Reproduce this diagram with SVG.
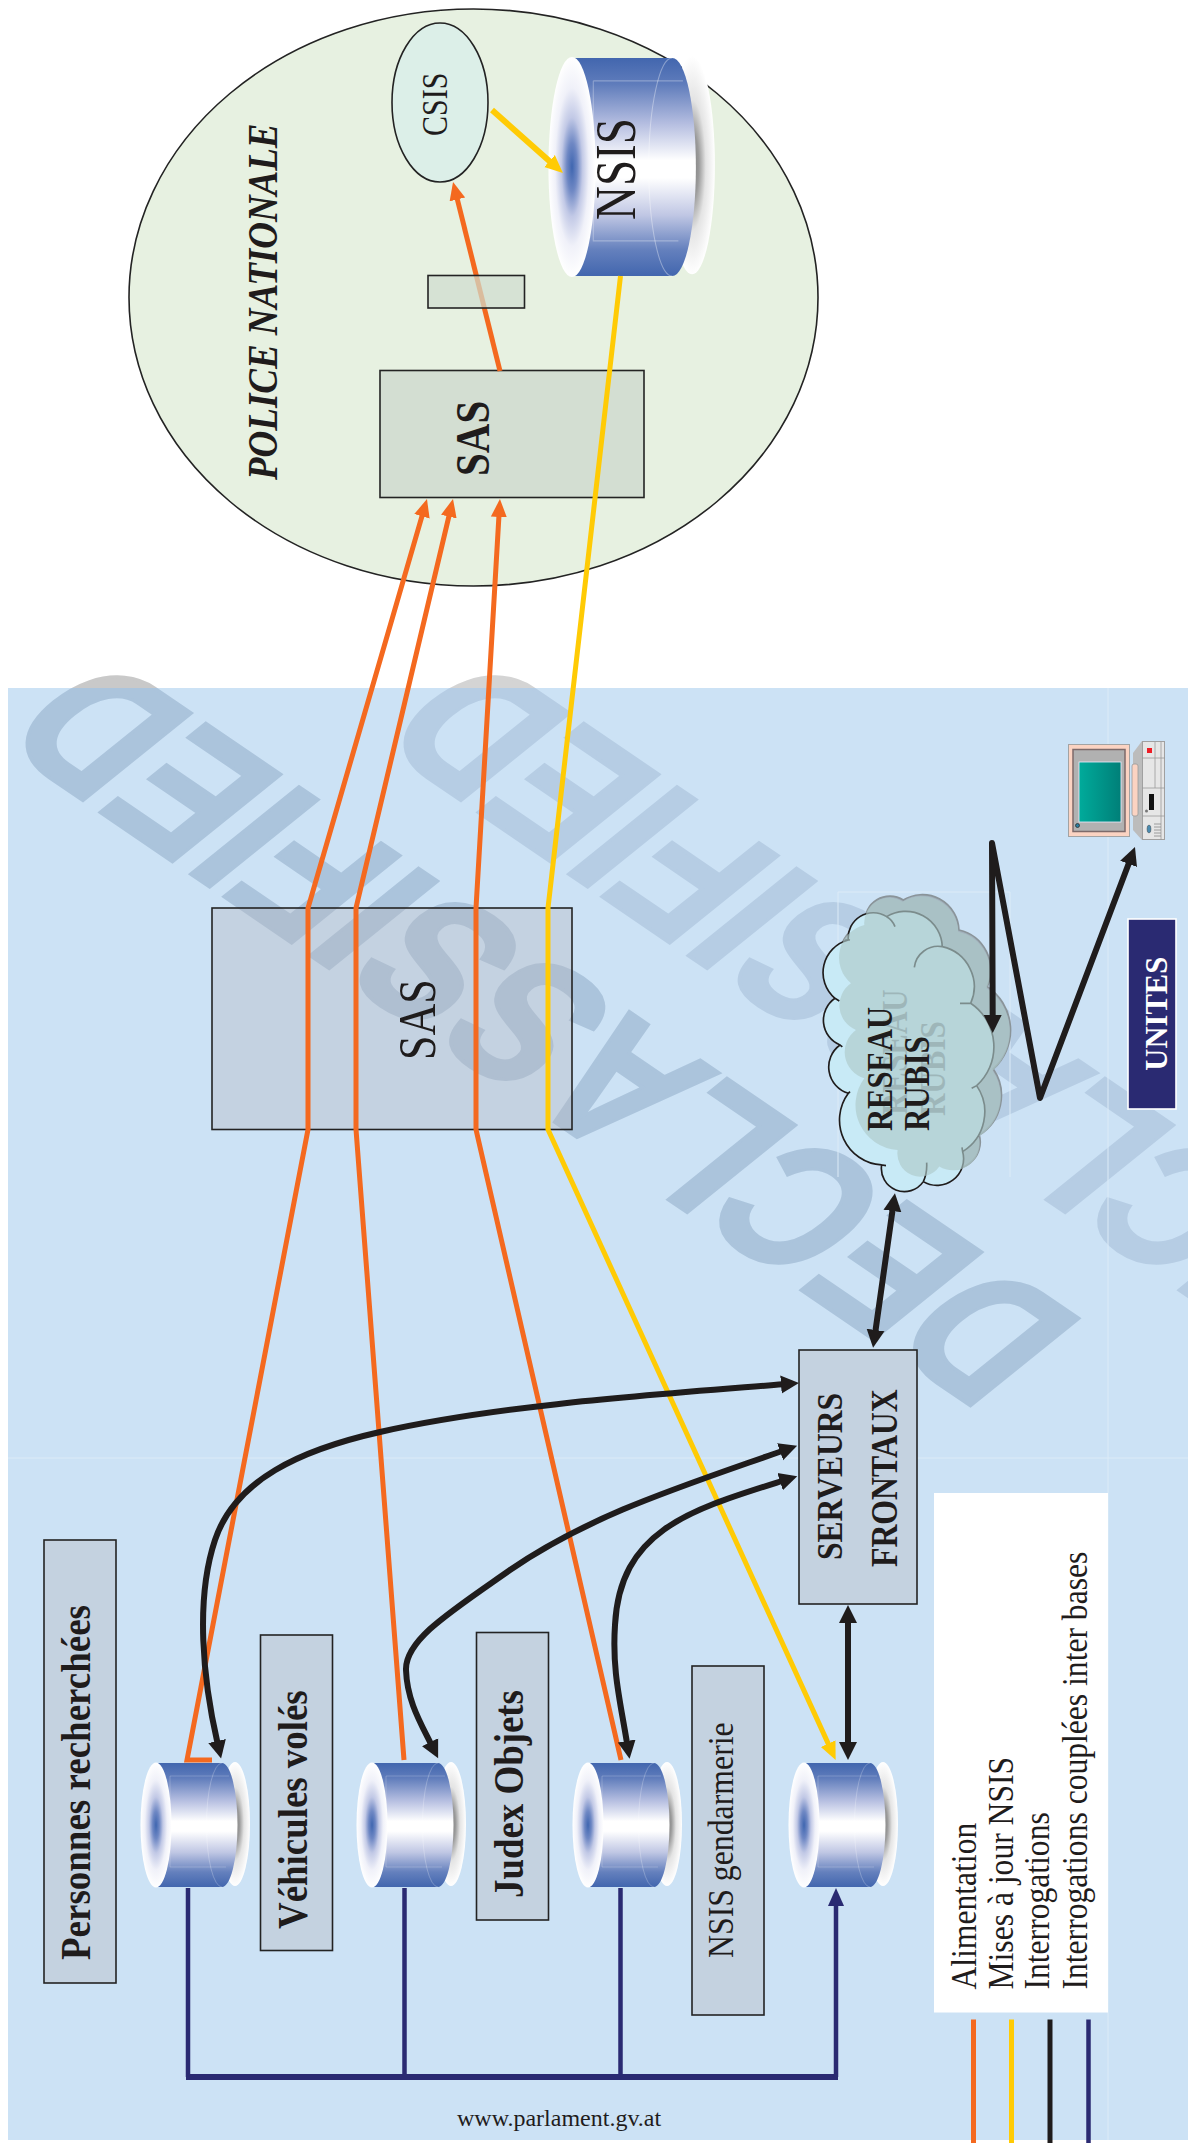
<svg xmlns="http://www.w3.org/2000/svg" width="1188" height="2143" viewBox="0 0 1188 2143">
<style>
text{font-family:"Liberation Serif","Times New Roman",serif;fill:#1f1c1c}
.b{font-weight:bold}
.box{fill:#c4d2e0;stroke:#232323;stroke-width:1.6}
.grn{fill:#d3ded2;stroke:#232323;stroke-width:1.6}
.o{fill:none;stroke:#f4691f;stroke-width:5;stroke-linejoin:miter}
.y{fill:none;stroke:#ffcb05;stroke-width:5}
.k{fill:none;stroke:#1f1c1c;stroke-width:6;stroke-linejoin:round;stroke-linecap:round}
.n{fill:none;stroke:#2a2a72;stroke-width:4.5}
text.wm{font-family:"Liberation Sans",Arial,sans-serif;font-weight:bold;font-size:160px;fill:inherit;stroke:inherit;stroke-width:3px}
.tile{fill:none;stroke:#dcebf7;stroke-width:1}
.clo{fill:none;stroke:#1f1c1c;stroke-width:5}
</style>
<defs>
<linearGradient id="gBody" x1="0" y1="0" x2="0" y2="1">
<stop offset="0" stop-color="#4266ae"/><stop offset=".12" stop-color="#5f7cbb"/><stop offset=".3" stop-color="#b4bde0"/><stop offset=".47" stop-color="#fff"/><stop offset=".55" stop-color="#fff"/><stop offset=".72" stop-color="#c0c7e4"/><stop offset=".88" stop-color="#6480bd"/><stop offset="1" stop-color="#4266ae"/>
</linearGradient>
<radialGradient id="gFace" cx=".5" cy=".5" r=".5">
<stop offset="0" stop-color="#3f66b0"/><stop offset=".22" stop-color="#6f88c4"/><stop offset=".45" stop-color="#c2c9e6"/><stop offset=".72" stop-color="#f0f1f9"/><stop offset="1" stop-color="#fff"/>
</radialGradient>
<radialGradient id="gBack" cx=".5" cy=".5" r=".5">
<stop offset="0" stop-color="#7d7d7d"/><stop offset=".3" stop-color="#9a9a9a"/><stop offset=".6" stop-color="#e4e4e4"/><stop offset="1" stop-color="#fff"/>
</radialGradient>
<linearGradient id="gScreen" x1="0" y1="0" x2="1" y2="0"><stop offset="0" stop-color="#00ab9b"/><stop offset="1" stop-color="#007f78"/></linearGradient>
<g id="cyl">
<ellipse cx="79" cy="-1" rx="15" ry="62" fill="url(#gBack)"/>
<path d="M0,-62 L66,-62 A15.5,62 0 0 1 66,62 L0,62 Z" fill="url(#gBody)"/>
<path d="M66,-62 A15.5,62 0 0 0 66,62" fill="none" stroke="#fff" stroke-opacity=".35" stroke-width=".7"/>
<path d="M14,-49 H73 M14,-49 V42 H70" fill="none" stroke="#fff" stroke-opacity=".3" stroke-width=".7"/>
<ellipse cx="0" cy="0" rx="15.5" ry="62.5" fill="url(#gFace)"/>
</g>
<path id="cloudShape" d="M205,660 A75,75 0 0 1 320,590 A110,110 0 0 1 487,680 A123,123 0 0 1 572,850 A157,157 0 0 1 590,1097 A140,140 0 0 1 548,1295 A80,80 0 0 1 430,1385 A69,69 0 0 1 305,1335 A135,135 0 0 1 205,1120 A82,82 0 0 1 180,975 A80,80 0 0 1 165,835 A101,101 0 0 1 205,660 Z"/>
<marker id="aO" markerUnits="userSpaceOnUse" markerWidth="18" markerHeight="18" refX="2" refY="9" orient="auto-start-reverse"><path d="M0,1 L18,9 L0,17 Z" fill="#f4691f"/></marker>
<marker id="aY" markerUnits="userSpaceOnUse" markerWidth="18" markerHeight="18" refX="2" refY="9" orient="auto-start-reverse"><path d="M0,1 L18,9 L0,17 Z" fill="#ffcb05"/></marker>
<marker id="aK" markerUnits="userSpaceOnUse" markerWidth="20" markerHeight="20" refX="2" refY="10" orient="auto-start-reverse"><path d="M0,1 L18,10 L0,19 Z" fill="#1f1c1c"/></marker>
<marker id="aN" markerUnits="userSpaceOnUse" markerWidth="18" markerHeight="18" refX="2" refY="9" orient="auto-start-reverse"><path d="M0,1 L18,9 L0,17 Z" fill="#2a2a72"/></marker>
<clipPath id="inBg"><rect x="8" y="688" width="1180" height="1452"/></clipPath>
<clipPath id="aboveBg"><rect x="0" y="660" width="1188" height="28"/></clipPath>
<text id="wmA" class="wm" transform="matrix(-.839,-.572,.982,-.791,1087.8,1324.7)">DECLASSIFIED</text>
<text id="wmB" class="wm" transform="matrix(-.839,-.572,.982,-.791,1465.8,1324.7)">DECLASSIFIED</text>
</defs>

<rect width="1188" height="2143" fill="#fff"/>
<g id="background">
<rect x="8" y="688" width="1180" height="1452" fill="#cce2f5"/>
<g clip-path="url(#aboveBg)">
<use href="#wmA" fill="#c9c9c9" stroke="#c9c9c9"/>
<use href="#wmB" fill="#d4d4d4" stroke="#d4d4d4"/>
</g>
<g clip-path="url(#inBg)">
<use href="#wmA" fill="#abc4dc" stroke="#abc4dc"/>
<use href="#wmB" fill="#b6cde4" stroke="#b6cde4"/>
</g>
<path class="tile" d="M1108,688 V2140 M8,1458 H1188"/>
</g>

<g id="police-nationale">
<ellipse cx="473.5" cy="297.5" rx="344.5" ry="288.5" fill="#e7f1e1" stroke="#232323" stroke-width="1.6"/>
<text class="b" font-style="italic" font-size="37" transform="translate(277,480) rotate(-90) scale(1,1.12)">POLICE NATIONALE</text>
</g>
<g id="csis">
<ellipse cx="440" cy="102.5" rx="48" ry="79.5" fill="#dcefe8" stroke="#232323" stroke-width="1.6"/>
<text font-size="30" transform="translate(447,136) rotate(-90) scale(1,1.2)">CSIS</text>
</g>
<g id="nsis">
<use href="#cyl" transform="translate(572,167) scale(1.52,1.76)"/>
<text font-size="47" transform="translate(635,220) rotate(-90) scale(1,1.2)">NSIS</text>
</g>
<g id="sas-police">
<rect class="grn" x="380" y="370.5" width="264" height="127"/>
<text class="b" font-size="41" transform="translate(489,476) rotate(-90) scale(1,1.17)">SAS</text>
</g>
<g id="sas-central">
<rect x="212" y="908" width="360" height="221.5" fill="#b6b7bd" fill-opacity=".37" stroke="#232323" stroke-width="1.6"/>
<text font-size="44" transform="translate(435,1060) rotate(-90) scale(1,1.22)">SAS</text>
</g>
<g id="serveurs-frontaux">
<rect class="box" x="799" y="1350" width="118" height="254"/>
<text class="b" font-size="31.5" transform="translate(842,1560) rotate(-90) scale(1,1.16)">SERVEURS</text>
<text class="b" font-size="31.8" transform="translate(897,1567) rotate(-90) scale(1,1.16)">FRONTAUX</text>
</g>
<g id="reseau-rubis">
<path class="tile" d="M838,892 H1010 V1177 M838,892 V1177 M860,968 H876 V952 M860,968 V1152 H950"/>
<g transform="translate(780,720) scale(.3333)">
<use href="#cloudShape" transform="translate(50,-50)" fill="#a2b1bd" stroke="#8a9499" stroke-width="5"/>
<use href="#cloudShape" fill="#c8eaf6"/>
<path class="clo" d="M195,662 Q198,658 210,660 M205,660 A75,75 0 0 1 320,590 Q338,600 345,620 M320,590 A110,110 0 0 1 487,680 M403,742 A72,72 0 0 1 487,680 A123,123 0 0 1 572,850 L540,850 M572,850 A157,157 0 0 1 590,1097 L575,1105 M590,1097 A140,140 0 0 1 548,1295 L546,1282 M548,1295 A80,80 0 0 1 430,1385 M440,1328 Q442,1360 430,1385 A69,69 0 0 1 305,1335 L318,1337 M305,1335 A135,135 0 0 1 205,1120 L210,1115 M205,1120 A82,82 0 0 1 180,975 L187,981 M180,975 A80,80 0 0 1 165,835 L178,843 M165,835 A101,101 0 0 1 205,660"/>
<use href="#cloudShape" transform="translate(48,-45)" fill="#aecaca" fill-opacity=".65"/>
</g>
<text class="b" font-size="31" opacity=".16" transform="translate(907,1115) rotate(-90) scale(1,1.17)">RESEAU</text>
<text class="b" font-size="31" opacity=".16" transform="translate(945,1116) rotate(-90) scale(1,1.17)">RUBIS</text>
<text class="b" font-size="30.6" transform="translate(891.5,1131) rotate(-90) scale(1,1.17)">RESEAU</text>
<text class="b" font-size="31" transform="translate(929,1131) rotate(-90) scale(1,1.17)">RUBIS</text>
</g>
<g id="unites">
<rect x="1128" y="919" width="48" height="190" fill="#2a2a72" stroke="#fff" stroke-width="1.6"/>
<text class="b" font-size="30.6" style="fill:#fff" transform="translate(1167,1070.7) rotate(-90)">UNITES</text>
</g>
<g id="computer">
<rect x="1068.5" y="744.5" width="61" height="92" fill="#fbd3c2" stroke="#a3a3a3"/>
<rect x="1073" y="749.5" width="52" height="82" fill="#b1b1b1" stroke="#7d6a6a" stroke-width="1.5"/>
<rect x="1079" y="762" width="42" height="60" fill="url(#gScreen)" stroke="#eef" stroke-width=".8"/>
<circle cx="1077.5" cy="825.5" r="2" fill="#2a7ea0" stroke="#222" stroke-width=".7"/>
<path d="M1133,753 L1142,741 V840 L1133,830 Z" fill="#bcbcbc"/>
<rect x="1132" y="764" width="6" height="52" rx="2" fill="#fbd3c2" stroke="#999" stroke-width=".8"/>
<rect x="1142.5" y="741.5" width="22" height="98" fill="#e6e6e6" stroke="#a0a0a0"/>
<path d="M1142,758 H1165 M1142,788 H1165 M1142,816 H1165 M1155,742 V788 M1161,742 V840" stroke="#999" stroke-width=".8" fill="none"/>
<rect x="1147" y="748" width="5" height="5" fill="#ee1c25"/>
<rect x="1149" y="794" width="5" height="16" fill="#111"/>
<circle cx="1146.5" cy="811" r="1.5" fill="#777"/>
<ellipse cx="1149" cy="829" rx="2" ry="4" fill="#4a8bb0" stroke="#555" stroke-width=".5"/>
<path d="M1154,824 H1161 M1154,827 H1161 M1154,830 H1161 M1154,833 H1161 M1154,836 H1161" stroke="#888" stroke-width=".8"/>
</g>
<g id="cyl-personnes"><use href="#cyl" transform="translate(156,1825)"/></g>
<g id="cyl-vehicules"><use href="#cyl" transform="translate(372,1825)"/></g>
<g id="cyl-judex"><use href="#cyl" transform="translate(588,1825)"/></g>
<g id="cyl-nsis-g"><use href="#cyl" transform="translate(804,1825)"/></g>
<g id="label-personnes">
<rect class="box" x="44" y="1540" width="72" height="443"/>
<text class="b" font-size="37" transform="translate(89.5,1960) rotate(-90) scale(1,1.12)">Personnes recherchées</text>
</g>
<g id="label-vehicules">
<rect class="box" x="260.5" y="1635" width="72" height="315.5"/>
<text class="b" font-size="36.9" transform="translate(307,1929) rotate(-90) scale(1,1.12)">Véhicules volés</text>
</g>
<g id="label-judex">
<rect class="box" x="476.5" y="1632.5" width="72" height="287.5"/>
<text class="b" font-size="36.9" transform="translate(522.7,1898) rotate(-90) scale(1,1.12)">Judex Objets</text>
</g>
<g id="label-nsis-g">
<rect class="box" x="692" y="1666" width="72" height="349"/>
<text font-size="31.8" transform="translate(733,1958) rotate(-90) scale(1,1.15)">NSIS gendarmerie</text>
</g>
<g id="legend">
<rect x="934" y="1493" width="174" height="519.5" fill="#fff"/>
<text font-size="31.6" transform="translate(976,1989.5) rotate(-90) scale(1,1.15)">Alimentation</text>
<text font-size="31.6" transform="translate(1013,1989.5) rotate(-90) scale(1,1.15)">Mises à jour NSIS</text>
<text font-size="31.6" transform="translate(1049,1989.5) rotate(-90) scale(1,1.15)">Interrogations</text>
<text font-size="31.6" transform="translate(1087,1989.5) rotate(-90) scale(1,1.15)">Interrogations couplées inter bases</text>
</g>
<g id="url"><text font-size="24" x="457" y="2126">www.parlament.gv.at</text></g>

<g id="connectors">
<path class="o" d="M212,1760 H187 L308,1129.5 V908 L422.5,514.4" marker-end="url(#aO)"/>
<path class="o" d="M404,1760 L356,1129.5 V908 L449.3,514.6" marker-end="url(#aO)"/>
<path class="o" d="M621,1760 L476,1129.5 V908 L499,515" marker-end="url(#aO)"/>
<path class="o" d="M500,371 L456.9,197.5" marker-end="url(#aO)"/>
<path class="y" d="M620.5,276 L548,908 V1129.5 L829,1745.4" marker-end="url(#aY)"/>
<path class="y" style="stroke-width:6" d="M492,110 L551,162.4" marker-end="url(#aY)"/>
<path class="k" d="M783,1384.3 C650,1395 500,1405 380,1432 C300,1450 235,1480 215,1540 C195,1600 203,1680 217.5,1743" marker-start="url(#aK)" marker-end="url(#aK)"/>
<path class="k" d="M782,1451 C680,1487 590,1515 510,1570 C450,1612 405,1640 406,1670 C407,1700 420,1722 431,1744" marker-start="url(#aK)" marker-end="url(#aK)"/>
<path class="k" d="M782,1481 C690,1510 620,1530 615,1625 C612,1670 620,1700 627,1743" marker-start="url(#aK)" marker-end="url(#aK)"/>
<path class="k" d="M875.3,1332 L892.7,1209" marker-start="url(#aK)" marker-end="url(#aK)"/>
<path class="k" d="M848,1621 V1744" marker-start="url(#aK)" marker-end="url(#aK)"/>
<path class="k" d="M992.7,1017 L992,843 L1040,1098 L1129.3,862" marker-start="url(#aK)" marker-end="url(#aK)"/>
<path class="n" d="M188,1888 V2077 M404.5,1888 V2077 M620.5,1888 V2077"/>
<path class="n" style="stroke-width:6" d="M186,2077 H838"/>
<path class="n" d="M836,2077 V1904" marker-end="url(#aN)"/>
<path class="o" d="M973.5,2019.5 V2143"/>
<path class="y" d="M1011.5,2019.5 V2143"/>
<path class="k" style="stroke-linecap:butt;stroke-width:5" d="M1050,2019.5 V2143"/>
<path class="n" d="M1088.5,2019.5 V2143"/>
</g>
<g id="sas-small"><rect x="428" y="275.5" width="96.5" height="32.5" fill="#d0dccf" fill-opacity=".72" stroke="#232323" stroke-width="1.6"/></g>
</svg>
